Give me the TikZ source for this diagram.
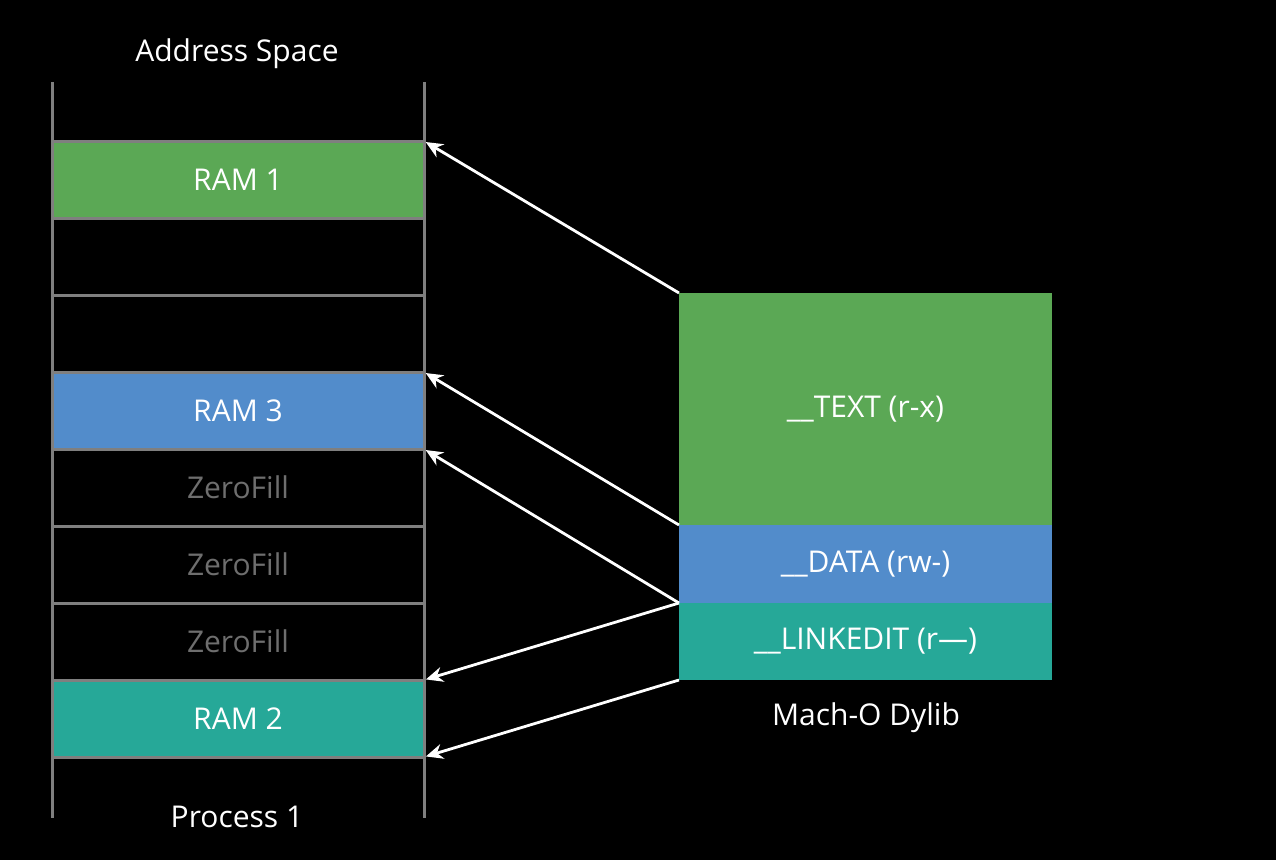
\documentclass[tikz,border=0pt]{standalone}
\usepackage{fontspec}
\setmainfont{Open Sans}
\usetikzlibrary{arrows.meta}
\usetikzlibrary{positioning}

\definecolor{segGreen}{HTML}{5BA855}
\definecolor{segBlue}{HTML}{528CCB}
\definecolor{segTeal}{HTML}{26A898}
\definecolor{rowGrey}{HTML}{7F7F7F}
\definecolor{zeroGrey}{HTML}{6E6E6E}

\tikzset{
  row/.style={draw=rowGrey, line width=3pt, minimum width=372pt, minimum height=77pt, inner sep=0, outer sep=0, text=white, font=\fontsize{30}{30}\selectfont},
  seg/.style={minimum width=373pt, inner sep=0, outer sep=0, text=white, font=\fontsize{30}{30}\selectfont},
  caption/.style={text=white, font=\fontsize{30}{30}\selectfont},
  map/.style={white, line width=2.8pt, -{Stealth[length=17pt,width=15pt]}, shorten >=2pt}
}

\begin{document}
\begin{tikzpicture}[x=1pt, y=-1pt]
\fill[black] (0,0) rectangle (1276,860);
\useasboundingbox (0,0) rectangle (1276,860);
% address space column
\draw[rowGrey, line width=3pt] (52,82)--(52,818);
\draw[rowGrey, line width=3pt] (424,82)--(424,818);
\node[row, fill=segGreen] (ram1) at (238,179.5) {RAM 1};
\node[row, below=0 of ram1] (free1) {};
\node[row, below=0 of free1] (free2) {};
\node[row, fill=segBlue, below=0 of free2] (ram3) {RAM 3};
\node[row, text=zeroGrey, below=0 of ram3] (zf1) {ZeroFill};
\node[row, text=zeroGrey, below=0 of zf1] (zf2) {ZeroFill};
\node[row, text=zeroGrey, below=0 of zf2] (zf3) {ZeroFill};
\node[row, fill=segTeal, below=0 of zf3] (ram2) {RAM 2};
\node[caption] (space) at (237,54) {Address Space};
\node[caption] (proc) at (237,817) {Process 1};
% dylib segments
\node[seg, fill=segGreen, minimum height=232pt] (text) at (865.5,409) {\_\_TEXT (r-x)};
\node[seg, fill=segBlue, minimum height=78pt, below=0 of text] (data) {\_\_DATA (rw-)};
\node[seg, fill=segTeal, minimum height=77pt, below=0 of data] (linkedit) {\_\_LINKEDIT (r—)};
\node[caption] (dylib) at (866,718) {Mach-O Dylib};
% mappings
\draw[map] (text.north west) -- (ram1.north east);
\draw[map] (text.south west) -- (ram3.north east);
\draw[map] (data.south west) -- (zf1.north east);
\draw[map] (data.south west) -- (ram2.north east);
\draw[map] (linkedit.south west) -- (ram2.south east);
\end{tikzpicture}
\end{document}
